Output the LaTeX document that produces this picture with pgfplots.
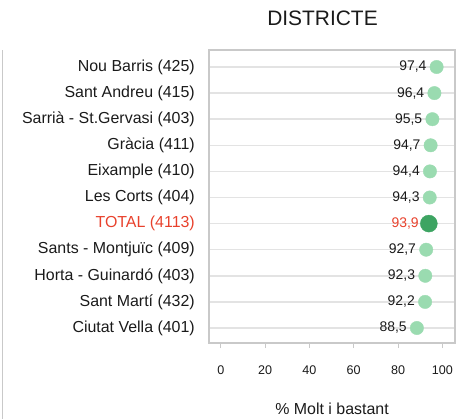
\documentclass[border=0pt]{standalone}
\usepackage{fontspec}
\setmainfont{Liberation Sans}
\usepackage{pgfplots}
\pgfplotsset{compat=1.18}
\definecolor{lgreen}{HTML}{9ADBB0}
\definecolor{dgreen}{HTML}{3DA462}
\definecolor{tred}{HTML}{E8412C}
\definecolor{gridg}{HTML}{E3E3E3}
\definecolor{boxg}{HTML}{C9C9C9}
\definecolor{txt}{HTML}{1A1A1A}
\begin{document}
\begin{tikzpicture}
\path[use as bounding box] (0,0) rectangle (456bp,-419bp);
\draw[boxg, line width=1.2bp] (2.5bp,-50bp) -- (2.5bp,-419bp);
\node[font=\fontsize{21}{24}\selectfont, text=txt] at (322.5bp,-18bp) {DISTRICTE};
\begin{axis}[
  at={(209bp,-50bp)}, anchor=north west,
  scale only axis, width=246bp, height=293bp,
  xmin=-5.3, xmax=105.7, ymin=-0.651, ymax=10.575, y dir=reverse,
  xtick={0,20,...,100}, ytick={0,...,10},
  yticklabels={Nou Barris (425), Sant Andreu (415), Sarrià - St.Gervasi (403), Gràcia (411), Eixample (410), Les Corts (404), {\textcolor{tred}{TOTAL (4113)}}, Sants - Montjuïc (409), Horta - Guinardó (403), Sant Martí (432), Ciutat Vella (401)},
  ymajorgrids, grid style={gridg, line width=1.5bp},
  axis line style={boxg, line width=1.2bp},
  ytick style={draw=none},
  xtick align=outside, xtick pos=bottom,
  xtick style={boxg, line width=1bp}, major tick length=5bp,
  /pgf/number format/assume math mode=true,
  xticklabel style={font=\fontsize{12.6}{14}\selectfont, text=txt, anchor=north, inner sep=0pt, yshift=-17.5bp},
  yticklabel style={font=\fontsize{16}{18}\selectfont, text=txt, anchor=east, inner sep=0pt, xshift=-14bp},
  xlabel={\% Molt i bastant},
  xlabel style={font=\fontsize{16}{18}\selectfont, text=txt, at={(rel axis cs:0.5,0)}, anchor=center, yshift=-66bp},
  clip=false,
  nodes near coords={\pgfplotspointmeta},
  point meta=explicit symbolic,
  nodes near coords style={anchor=east, inner sep=0pt, xshift=-10bp, font=\fontsize{14}{16}\selectfont, text=txt},
]
\addplot[only marks, mark=*, mark size=6.7bp, color=lgreen] table[x=x, y=y, meta=lab] {
x y lab
97.4 0 97,4
96.4 1 96,4
95.5 2 95,5
94.7 3 94,7
94.4 4 94,4
94.3 5 94,3
92.7 7 92,7
92.3 8 92,3
92.2 9 92,2
88.5 10 88,5
};
\addplot[only marks, mark=*, mark size=8.5bp, color=dgreen, nodes near coords style={text=tred}] table[x=x, y=y, meta=lab] {
x y lab
93.9 6 93,9
};
\end{axis}
\end{tikzpicture}
\end{document}
